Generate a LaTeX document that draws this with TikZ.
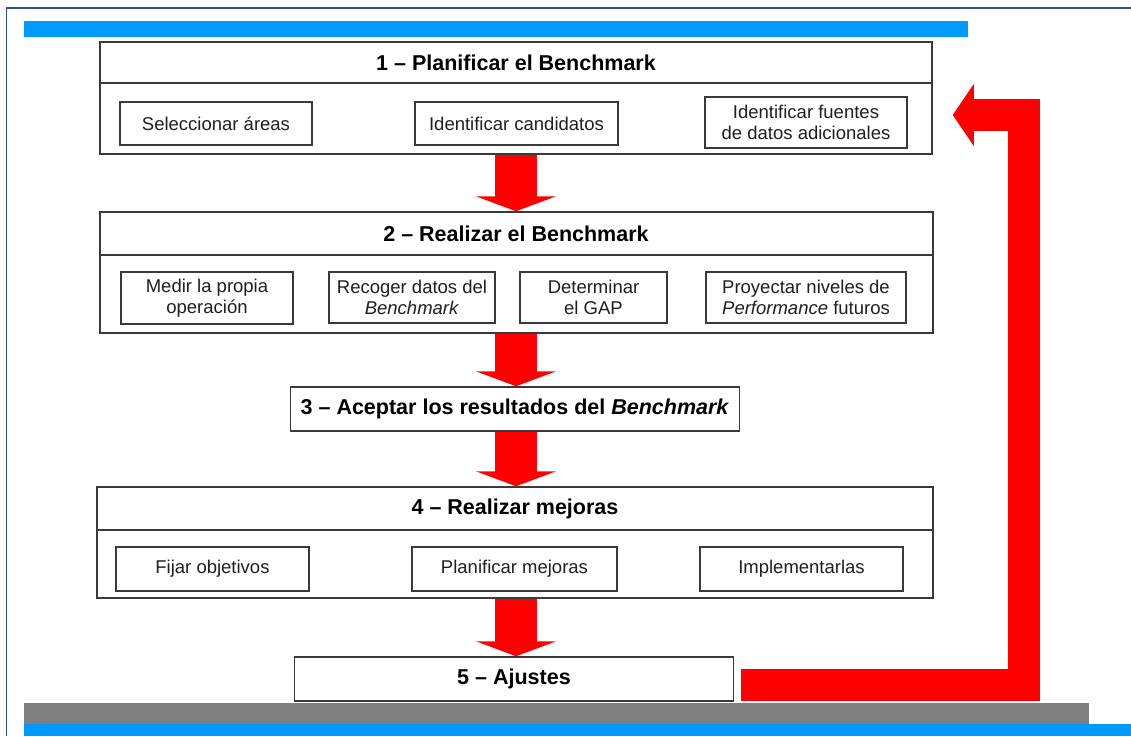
\documentclass[tikz,border=0pt]{standalone}
\usepackage{fontspec}
\setmainfont{Liberation Sans}
\usetikzlibrary{arrows.meta,calc}
\definecolor{barblue}{HTML}{0099FF}
\definecolor{frameblue}{HTML}{2E4F8F}
\definecolor{bargrey}{HTML}{808080}
\definecolor{boxline}{HTML}{3A3A3A}
\definecolor{arrowred}{HTML}{FF0000}
\begin{document}
\begin{tikzpicture}[x=1pt,y=-1pt,
  bigbox/.style={draw=boxline,line width=1.5pt,fill=white,rectangle,inner sep=0pt},
  smallbox/.style={draw=boxline,line width=1.3pt,rectangle,inner sep=0pt,align=center,
    font=\fontsize{18.5}{21}\selectfont,text=black!88},
  titletext/.style={font=\bfseries\fontsize{21.5}{24}\selectfont,inner sep=0pt,text=black},
  flowarrow/.style={draw=arrowred,line width=42pt,-{Triangle[width=80pt,length=15pt]}},
  fbarrow/.style={draw=arrowred,line width=32pt,line join=miter,-{Triangle[width=61pt,length=21pt]}}
]
\useasboundingbox (0,0) rectangle (1131,736);
\fill[white] (0,0) rectangle (1131,736);
% bars and frame
\fill[barblue] (24,21) rectangle (968,37);
\fill[bargrey] (24,703) rectangle (1089,724);
\fill[barblue] (24,724) rectangle (1131,736);
\draw[frameblue,line width=1.5pt] (6.5,736) -- (6.5,8) -- (1131,8);

% box 1
\node[bigbox,minimum width=832pt,minimum height=112pt] (b1) at (516,98) {};
\draw[boxline,line width=1.5pt] (100,83) -- (932,83);
\node[titletext] (t1) at (516,62.5) {1 – Planificar el Benchmark};
\node[smallbox,minimum width=192pt,minimum height=43pt] (s11) at (216,123.5) {Seleccionar áreas};
\node[smallbox,minimum width=203pt,minimum height=43pt] (s12) at (516.5,123.5) {Identificar candidatos};
\node[smallbox,minimum width=202pt,minimum height=51pt] (s13) at (806,122.5) {Identificar fuentes\\de datos adicionales};

% box 2
\node[bigbox,minimum width=833pt,minimum height=121pt] (b2) at (516.5,272.5) {};
\draw[boxline,line width=1.5pt] (100,255) -- (933,255);
\node[titletext] (t2) at (516,233.5) {2 – Realizar el Benchmark};
\node[smallbox,minimum width=172pt,minimum height=52pt] (s21) at (207,298) {Medir la propia\\operación};
\node[smallbox,minimum width=166pt,minimum height=51pt] (s22) at (412,297.5) {Recoger datos del\\\textit{Benchmark}};
\node[smallbox,minimum width=147pt,minimum height=51pt] (s23) at (593.5,297.5) {Determinar\\el GAP};
\node[smallbox,minimum width=200pt,minimum height=51pt] (s24) at (806,297.5) {Proyectar niveles de\\\textit{Performance} futuros};

% box 3
\node[bigbox,titletext,draw=boxline,line width=1.5pt,minimum width=449pt,minimum height=44pt] (b3) at (515,409) {3 – Aceptar los resultados del \textit{Benchmark}};

% box 4
\node[bigbox,minimum width=836pt,minimum height=111pt] (b4) at (515,542.5) {};
\draw[boxline,line width=1.5pt] (97,530) -- (933,530);
\node[titletext] (t4) at (515,508.5) {4 – Realizar mejoras};
\node[smallbox,minimum width=193pt,minimum height=44pt] (s41) at (212.5,569) {Fijar objetivos};
\node[smallbox,minimum width=205pt,minimum height=44pt] (s42) at (514.5,569) {Planificar mejoras};
\node[smallbox,minimum width=203pt,minimum height=44pt] (s43) at (801.5,569) {Implementarlas};

% box 5
\node[bigbox,titletext,draw=boxline,line width=1.5pt,minimum width=439pt,minimum height=44pt] (b5) at (514,679) {5 – Ajustes};

% down arrows
\draw[flowarrow] (b1.south) -- (b1.south |- b2.north);
\draw[flowarrow] (b1.south |- b2.south) -- (b1.south |- b3.north);
\draw[flowarrow] (b1.south |- b3.south) -- (b1.south |- b4.north);
\draw[flowarrow] (b1.south |- b4.south) -- (b1.south |- b5.north);

% feedback arrow
\coordinate (fbtip) at ($(b1.east)+(20,17)$);
\coordinate (fbstart) at ($(b5.east)+(7,5.5)$);
\draw[fbarrow] (fbstart) -| ($(fbtip)+(71,0)$) -- (fbtip);
\end{tikzpicture}
\end{document}
